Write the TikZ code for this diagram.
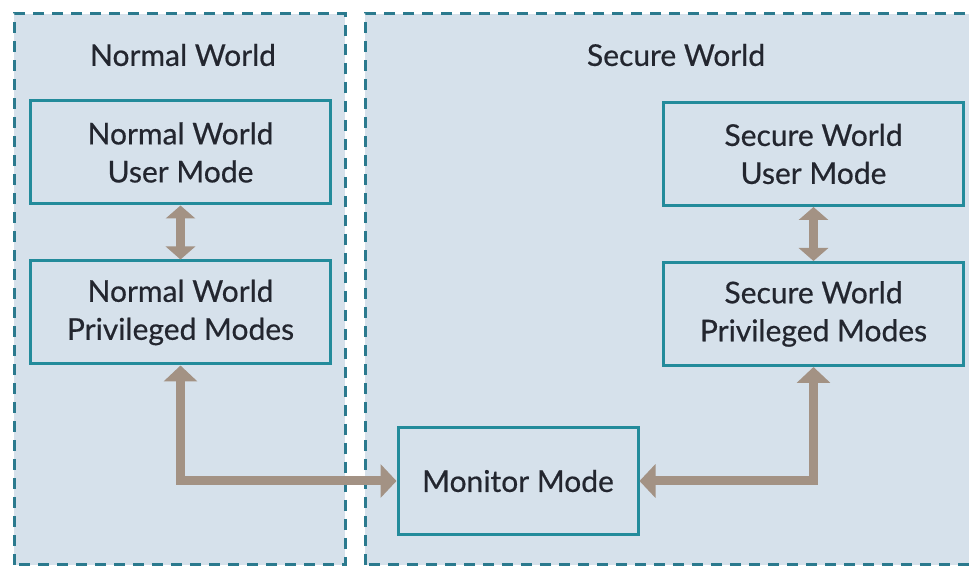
\documentclass[tikz,border=0pt]{standalone}
\usepackage{fontspec}
\setmainfont{Lato}[BoldFont=Lato, BoldFeatures={FakeBold=0.5}]
\usetikzlibrary{arrows.meta,positioning}

\definecolor{worldfill}{HTML}{D6E1EB}
\definecolor{worlddash}{HTML}{2B7A8E}
\definecolor{modeline}{HTML}{238B9B}
\definecolor{modetext}{HTML}{23262F}
\definecolor{linkcol}{HTML}{A39284}

\begin{document}
\begin{tikzpicture}[x=1pt,y=1pt,<->,>={Triangle[length=16pt,width=33pt]},
                    line width=9pt,node distance=160pt,
                    font=\fontsize{30}{38}\selectfont\bfseries]
  \tikzstyle{every node}=[text=modetext]
  \tikzstyle{world}=[fill=worldfill,draw=worlddash,line width=3pt,
                     dash pattern=on 11pt off 8pt]
  \tikzstyle{mode}=[draw=modeline,line width=3pt,minimum width=300pt,
                    minimum height=103pt,align=center,inner sep=0pt]
  \tikzstyle{link}=[color=linkcol,line join=miter]

  \useasboundingbox (0,0) rectangle (969,567);

  % the two worlds
  \fill[white] (0,0) rectangle (969,567);
  \path[world] (14,2) rectangle (345,553);
  \path[world] (365,2) rectangle (990,553);

  \node (nwlabel) at (183,512) {Normal World};
  \node (swlabel) at (676,512) {Secure World};

     \node[mode] (nwuser) at (180.5,414.5) {Normal World\\User Mode};

  \node[mode] (nwpriv) [below of=nwuser] {Normal World\\Privileged Modes};

     \node[mode] (swuser) at (813.5,413) {Secure World\\User Mode};

  \node[mode] (swpriv) [below of=swuser] {Secure World\\Privileged Modes};

    \node[mode,minimum width=240pt,minimum height=107pt] (monitor) at (518,86)
      {Monitor Mode};

  \path[link]
      (nwuser) edge [>={Triangle[length=13pt,width=29pt]}] (nwpriv)

      (swuser) edge [>={Triangle[length=13pt,width=29pt]}] (swpriv)
		;

  \draw[link] (nwpriv) |- (monitor);
  \draw[link] (monitor) -| (swpriv);

\end{tikzpicture}
\end{document}
